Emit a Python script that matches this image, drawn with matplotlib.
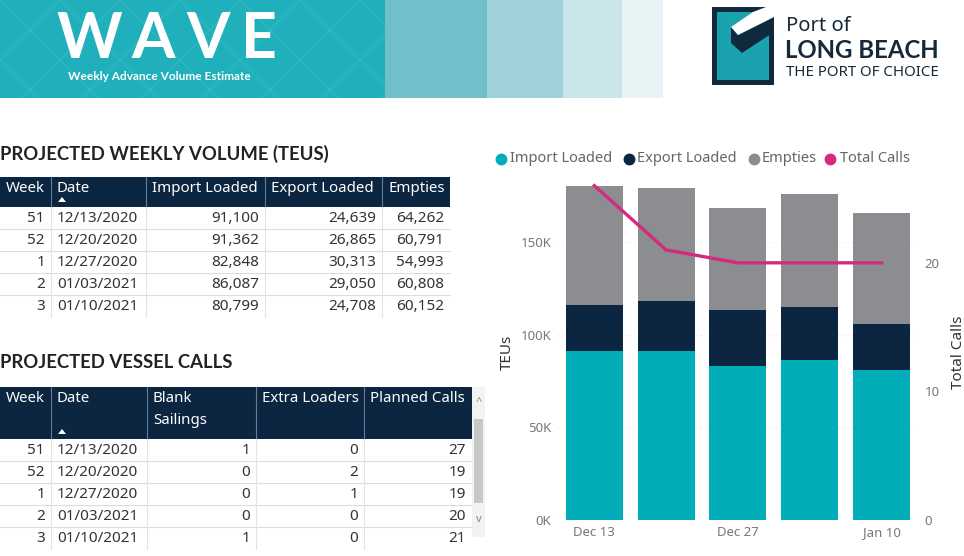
import matplotlib
matplotlib.use("Agg")
import matplotlib.pyplot as plt
from matplotlib.patches import Rectangle, Polygon
import numpy as np

plt.rcParams['font.family'] = ['Noto Sans', 'DejaVu Sans']
BOLD = ['Lato', 'DejaVu Sans']

# ==========================
# Data
# ==========================
weeks = [51, 52, 1, 2, 3]
dates = ["12/13/2020", "12/20/2020", "12/27/2020", "01/03/2021", "01/10/2021"]
import_loaded = [91100, 91362, 82848, 86087, 80799]
export_loaded = [24639, 26865, 30313, 29050, 24708]
empties = [64262, 60791, 54993, 60808, 60152]

blank_sailings = [1, 0, 0, 0, 1]
extra_loaders = [0, 2, 1, 0, 0]
planned_calls = [27, 19, 19, 20, 21]

total_calls = [26, 21, 20, 20, 20]
x_labels = ["Dec 13", "", "Dec 27", "", "Jan 10"]
series_names = ["Import Loaded", "Export Loaded", "Empties", "Total Calls"]

# colours
TEAL = "#00adb9"
NAVY = "#0c2540"
GREY = "#8b8d90"
PINK = "#d62a7f"
TXT = "#333333"

fig = plt.figure(figsize=(9.64, 5.56), dpi=100)
bg = fig.add_axes([0, 0, 1, 1])
bg.set_xlim(0, 964)
bg.set_ylim(556, 0)
bg.axis('off')

# ==========================
# Banner
# ==========================
segs = [(0, 385, "#1fb0bb"), (385, 487, "#6fc0ca"), (487, 563, "#9fd2db"),
        (563, 622, "#c9e5ea"), (622, 663, "#e8f3f5")]
for x0, x1, c in segs:
    bg.add_patch(Rectangle((x0, 0), x1 - x0, 98, color=c, lw=0))
clip = Rectangle((0, 0), 385, 98, transform=bg.transData)
for k in range(-120, 520, 60):
    for s in (1, -1):
        ln, = bg.plot([k, k + 200 * s], [0, 200], color="white", alpha=0.10, lw=0.8)
        ln.set_clip_path(clip)

for ch, xc in zip("WAVE", [89, 153, 208, 259]):
    bg.text(xc, 40, ch, color="white", fontsize=45, fontweight="bold",
            family=BOLD, ha="center", va="center")
bg.text(68, 77, "Weekly Advance Volume Estimate", color="white", fontsize=8.6,
        fontweight="bold", family=BOLD, ha="left", va="center")

# logo
bg.add_patch(Rectangle((712, 7), 62, 78, color="#10293d", lw=0))
bg.add_patch(Rectangle((717, 12), 52, 68, color="#1aa3ae", lw=0))
bg.add_patch(Polygon([(731, 27), (738, 35), (774, 17), (774, 32), (742, 53), (731, 43)],
                     closed=True, color="#10293d", lw=0))
bg.add_patch(Polygon([(731, 27), (753, 12), (766, 7), (774, 7), (774, 17), (738, 35)],
                     closed=True, color="white", lw=0))
bg.text(786, 26, "Port of", color="#15293b", fontsize=14.5, ha="left", va="center")
bg.text(785, 50, "LONG BEACH", color="#15293b", fontsize=17.3, fontweight="bold",
        family=BOLD, ha="left", va="center")
bg.text(786, 72, "THE PORT OF CHOICE", color="#15293b", fontsize=10.8,
        ha="left", va="center")


# ==========================
# Tables
# ==========================
def draw_table(title, title_y, top, head_h, edges, headers, rows, aligns, row_h=22):
    bg.text(0, title_y, title, fontsize=13.3, fontweight="bold", family=BOLD,
            color="#222222", ha="left", va="center")
    bg.add_patch(Rectangle((0, top), edges[-1], head_h, color=NAVY, lw=0))
    for e in edges[1:-1]:
        bg.plot([e, e], [top, top + head_h], color="#5f7f9e", lw=0.8)
    for i, h in enumerate(headers):
        lines = h.split("\n")
        for j, t in enumerate(lines):
            if aligns[i] == "r" and i == 0:
                bg.text(edges[i + 1] - 6, top + 12 + 21 * j, t, color="white",
                        fontsize=10.8, ha="right", va="center")
            else:
                bg.text(edges[i] + 6, top + 12 + 21 * j, t, color="white",
                        fontsize=10.8, ha="left", va="center")
    # sort arrow under Date
    bg.add_patch(Polygon([(58, top + head_h - 5), (66, top + head_h - 5), (62, top + head_h - 10)],
                         closed=True, color="white", lw=0))
    y0 = top + head_h
    n = len(rows[0])
    for r in range(n):
        yc = y0 + row_h * r + 11
        if r < n - 1:
            bg.plot([0, edges[-1]], [y0 + row_h * (r + 1)] * 2, color="#dddddd", lw=0.8)
        for i, col in enumerate(rows):
            if aligns[i] == "l":
                bg.text(edges[i] + 6, yc, col[r], color=TXT, fontsize=11,
                        ha="left", va="center")
            else:
                bg.text(edges[i + 1] - 6, yc, col[r], color=TXT, fontsize=11,
                        ha="right", va="center")
    for e in edges[1:-1]:
        bg.plot([e, e], [y0, y0 + row_h * n], color="#e3e3e3", lw=0.8)


fmt = lambda v: f"{v:,}"
draw_table("PROJECTED WEEKLY VOLUME (TEUS)", 154, 177, 30,
           [0, 51, 146, 265, 382, 450],
           ["Week", "Date", "Import Loaded", "Export Loaded", "Empties"],
           [[str(w) for w in weeks], dates, [fmt(v) for v in import_loaded],
            [fmt(v) for v in export_loaded], [fmt(v) for v in empties]],
           ["r", "l", "r", "r", "r"])

draw_table("PROJECTED VESSEL CALLS", 363, 387, 52,
           [0, 51, 147, 256, 364, 472],
           ["Week", "Date", "Blank\nSailings", "Extra Loaders", "Planned Calls"],
           [[str(w) for w in weeks], dates, [str(v) for v in blank_sailings],
            [str(v) for v in extra_loaders], [str(v) for v in planned_calls]],
           ["r", "l", "r", "r", "r"])

# scrollbar
bg.add_patch(Rectangle((472, 387), 13, 150, color="#f3f3f3", lw=0))
bg.add_patch(Rectangle((474, 419), 9, 84, color="#c8c8c8", lw=0))
bg.text(478.5, 402, "^", color="#888888", fontsize=8, ha="center", va="center")
bg.text(478.5, 519, "v", color="#888888", fontsize=8, ha="center", va="center")

# ==========================
# Chart
# ==========================
ax = fig.add_axes([558.4 / 964, 36 / 556, (917.5 - 558.4) / 964, 335.6 / 556])
x = np.arange(len(weeks))
bw = 0.795
imp = np.array(import_loaded)
exp_ = np.array(export_loaded)
emp = np.array(empties)
ax.bar(x, imp, bw, color=TEAL, zorder=2)
ax.bar(x, exp_, bw, bottom=imp, color=NAVY, zorder=2)
ax.bar(x, emp, bw, bottom=imp + exp_, color=GREY, zorder=2)
ax.set_xlim(-0.5, 4.5)
ax.set_ylim(0, 181000)
ax.set_yticks([0, 50000, 100000, 150000])
ax.set_yticklabels(["0K", "50K", "100K", "150K"])
ax.set_xticks(x)
ax.set_xticklabels(x_labels)
ax.tick_params(length=0, labelsize=9.5, labelcolor="#777777")
ax.tick_params(axis='y', pad=5)
ax.tick_params(axis='x', pad=4)
for s in ax.spines.values():
    s.set_visible(False)
ax.grid(axis='y', color="#e6e6e6", ls=(0, (1, 3)), lw=0.8, zorder=0)
ax.set_facecolor("none")
ax.set_ylabel("TEUs", fontsize=11, color=TXT, labelpad=4)

ax2 = ax.twinx()
ax2.plot(x, total_calls, color=PINK, lw=2.4, clip_on=False, zorder=3)
ax2.set_ylim(0, 335.6 / 12.86)
ax2.set_yticks([0, 10, 20])
ax2.tick_params(length=0, labelsize=9.5, labelcolor="#777777", pad=5)
for s in ax2.spines.values():
    s.set_visible(False)
ax2.set_ylabel("Total Calls", fontsize=11, color=TXT, labelpad=8)

# legend
leg_x = [(501, 510), (629, 637), (754, 762), (830, 840)]
leg_c = [TEAL, NAVY, GREY, PINK]
for (cx, tx), c, name in zip(leg_x, leg_c, series_names):
    bg.plot(cx, 158.5, "o", color=c, ms=7.5)
    bg.text(tx, 158.5, name, color="#666666", fontsize=10.5, ha="left", va="center")

fig.savefig("out.png", dpi=100)
